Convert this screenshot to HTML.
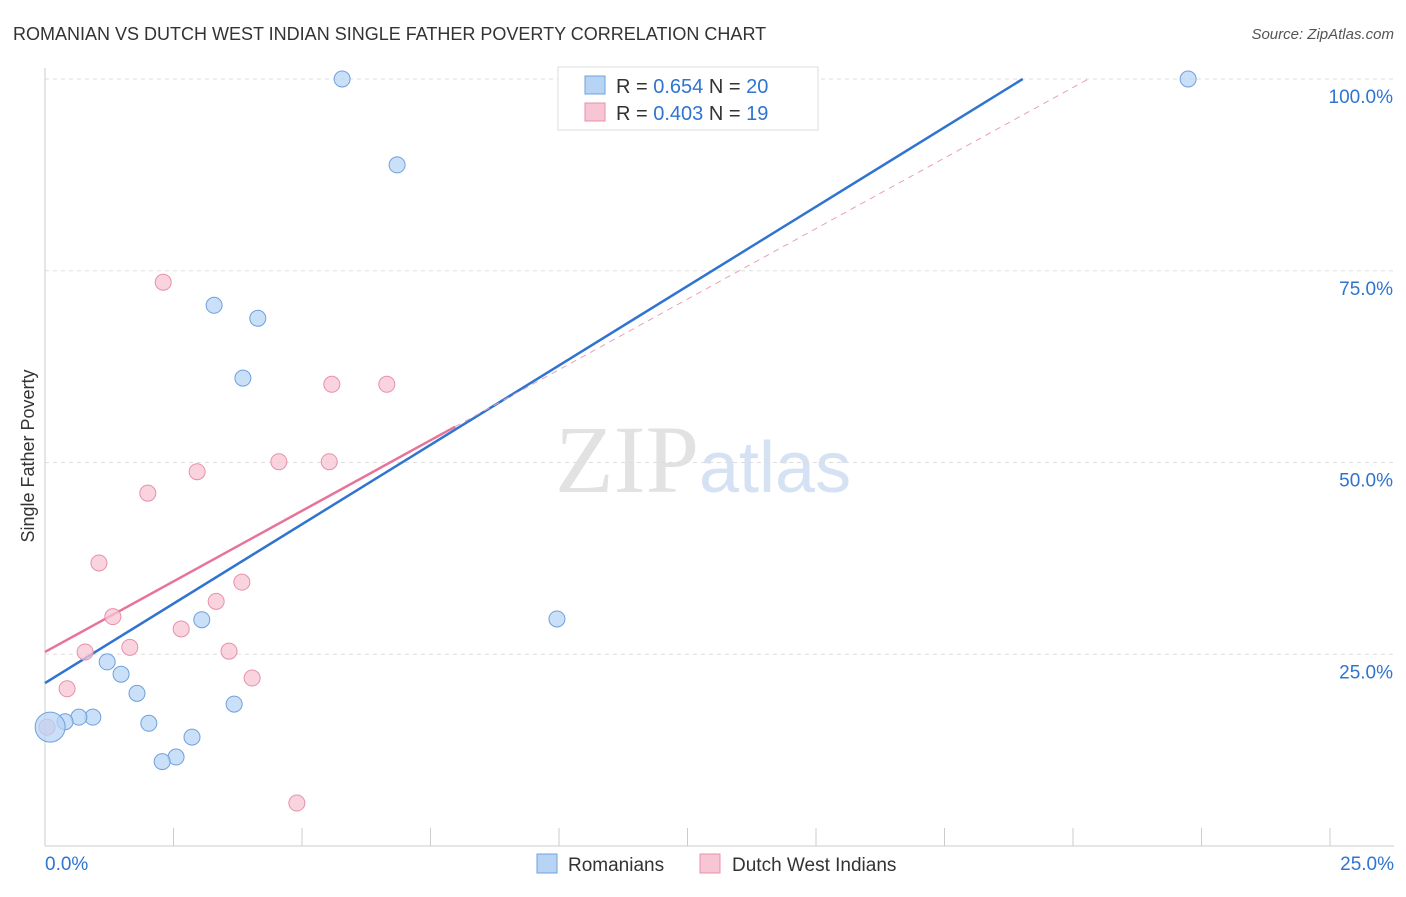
<!DOCTYPE html>
<html><head><meta charset="utf-8"><style>
body{margin:0;background:#fff;font-family:"Liberation Sans",sans-serif}
</style></head><body>
<svg id="c" width="1406" height="892" xmlns="http://www.w3.org/2000/svg" font-family="Liberation Sans, sans-serif">
<text x="13" y="40" font-size="18" fill="#333">ROMANIAN VS DUTCH WEST INDIAN SINGLE FATHER POVERTY CORRELATION CHART</text>
<text x="1394" y="39" font-size="15" fill="#555" font-style="italic" text-anchor="end">Source: ZipAtlas.com</text>
<text x="555" y="492" font-size="96" fill="#e2e2e2" font-family="Liberation Serif, serif">ZIP<tspan fill="#d4e2f4" font-family="Liberation Sans, sans-serif" font-size="72">atlas</tspan></text>
<text transform="translate(34,456) rotate(-90)" font-size="18" fill="#333" text-anchor="middle">Single Father Poverty</text>
<g id="grid"></g><g id="lines"></g><g id="pts"></g>
<g>
<rect x="558" y="67" width="260" height="63" fill="#fff" stroke="#ddd"/>
<rect x="585" y="76" width="20" height="18" fill="#b8d4f5" stroke="#6fa0dc"/>
<text x="616" y="93" font-size="20" fill="#333">R = <tspan fill="#2f74d0">0.654</tspan>   N = <tspan fill="#2f74d0">20</tspan></text>
<rect x="585" y="103" width="20" height="18" fill="#f7c5d4" stroke="#e890aa"/>
<text x="616" y="120" font-size="20" fill="#333">R = <tspan fill="#2f74d0">0.403</tspan>   N =  <tspan fill="#2f74d0">19</tspan></text>
</g>
<g><rect x="537" y="854" width="20" height="19" fill="#b8d4f5" stroke="#6fa0dc"/><text x="568" y="871" font-size="19" fill="#333">Romanians</text></g>
<g><rect x="700" y="854" width="20" height="19" fill="#f7c5d4" stroke="#e890aa"/><text x="732" y="871" font-size="19" fill="#333">Dutch West Indians</text></g>
</svg>
<script>
const yTicks=[25,50,75,100];
const xTickLabels=["0.0%","25.0%"];
const blueX=[5.78,6.85,22.24,3.29,4.14,3.85,3.05,9.96,1.21,1.48,1.79,3.68,2.02,0.93,0.66,0.39,0.1,2.86,2.55,2.28];
const blueY=[100,88.8,100,70.5,68.8,61.0,29.5,29.6,24.0,22.4,19.9,18.5,16.0,16.8,16.8,16.2,15.5,14.2,11.6,11.0];
const pinkX=[2.30,5.58,6.65,2.96,4.55,5.53,2.00,1.05,3.83,3.33,1.32,2.65,1.65,0.78,3.58,4.03,0.43,4.90,0.04];
const pinkY=[73.5,60.2,60.2,48.8,50.1,50.1,46.0,36.9,34.4,31.9,29.9,28.3,25.9,25.3,25.4,21.9,20.5,5.6,15.5];
const blueFit=[21.25,4.14];
const pinkFit=[25.3,3.68];
const NS="http://www.w3.org/2000/svg";
const X=v=>45+v/25*1285, Y=v=>846-v/100*767;
function mk(t,a,p){const e=document.createElementNS(NS,t);for(const k in a)e.setAttribute(k,a[k]);p.appendChild(e);return e;}
const g=document.getElementById('grid');
let ax=mk('line',{x1:45,y1:68,x2:45,y2:846,stroke:'#ccc'},g);

let bx=mk('line',{x1:45,y1:846,x2:1394,y2:846,stroke:'#ccc'},g);

for(let i=1;i<=10;i++){const t=mk('line',{x1:X(i*2.5),y1:828,x2:X(i*2.5),y2:846,stroke:'#ccc'},g);
}
yTicks.forEach(v=>{const l=mk('line',{x1:45,y1:Y(v),x2:1394,y2:Y(v),stroke:'#ddd','stroke-dasharray':'4,4'},g);

const t=mk('text',{x:1393,y:Y(v)+24,'font-size':19,fill:'#2f74d0','text-anchor':'end'},g);t.textContent=v.toFixed(1)+'%';
});
xTickLabels.forEach((s,i)=>{const t=mk('text',{x:i?1394:45,y:870,'font-size':19,fill:'#2f74d0','text-anchor':i?'end':'start'},g);t.textContent=s;
});
const L=document.getElementById('lines');
const bEnd=(100-blueFit[0])/blueFit[1];
let bl=mk('line',{x1:X(0),y1:Y(blueFit[0]),x2:X(bEnd),y2:Y(100),stroke:'#2f74d0','stroke-width':2.5},L);

const pMax=Math.max(...pinkX)*1.2, pEnd=(100-pinkFit[0])/pinkFit[1];
let pd=mk('line',{x1:X(pMax),y1:Y(pinkFit[0]+pinkFit[1]*pMax),x2:X(pEnd),y2:Y(100),stroke:'#e8a0b8','stroke-width':1,'stroke-dasharray':'6,5'},L);

let pl=mk('line',{x1:X(0),y1:Y(pinkFit[0]),x2:X(pMax),y2:Y(pinkFit[0]+pinkFit[1]*pMax),stroke:'#e8739a','stroke-width':2.5},L);

const P=document.getElementById('pts');
pinkX.forEach((x,i)=>{const c=mk('circle',{cx:X(x),cy:Y(pinkY[i]),r:8,fill:'#f7c5d4','fill-opacity':0.75,stroke:'#e890aa'},P);
});
blueX.forEach((x,i)=>{const c=mk('circle',{cx:X(x),cy:Y(blueY[i]),r:i==16?15:8,fill:'#b8d4f5','fill-opacity':0.75,stroke:'#6fa0dc'},P);
});
</script>
</body></html>
